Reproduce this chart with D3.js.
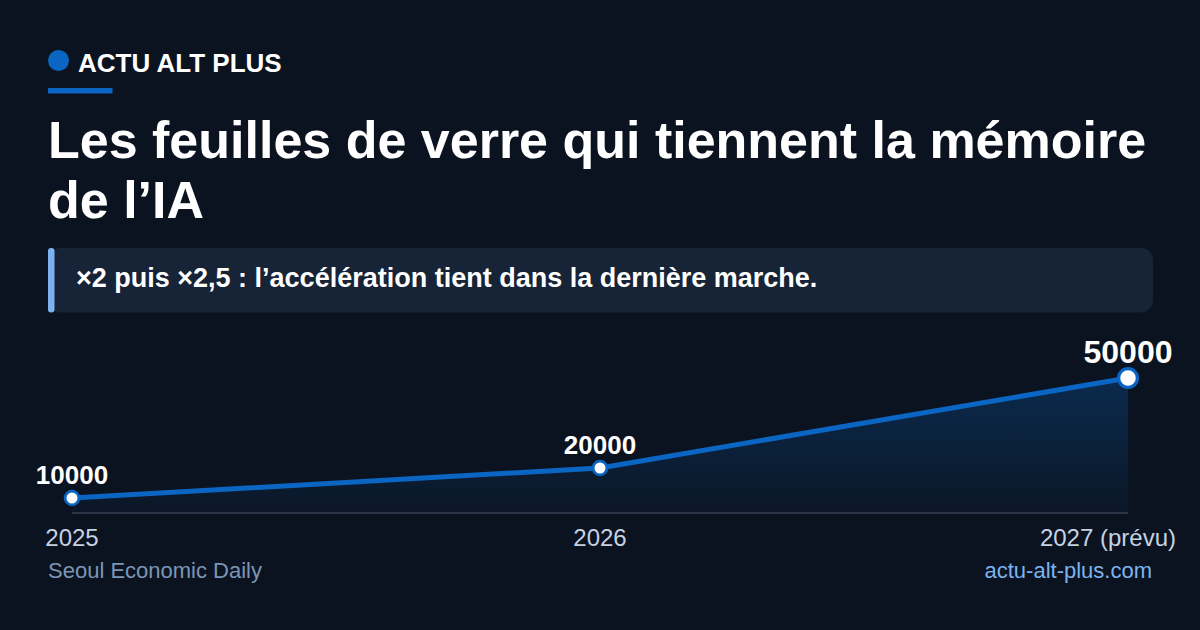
<!DOCTYPE html>
<html lang="fr"><head><meta charset="utf-8">
<script src="https://cdn.jsdelivr.net/npm/d3@7"></script>
<style>
html,body{margin:0;padding:0;background:#0b1320;width:1200px;height:630px;overflow:hidden}
svg{display:block}
text{font-family:"Liberation Sans",Arial,sans-serif}
</style></head><body>
<svg id="c" width="1200" height="630"></svg>
<script>
const categories = ["2025", "2026", "2027 (prévu)"];
const values = [10000, 20000, 50000];
const brand = "ACTU ALT PLUS";
const titleLines = ["Les feuilles de verre qui tiennent la mémoire", "de l’IA"];
const subtitle = "×2 puis ×2,5 : l’accélération tient dans la dernière marche.";
const sourceLabel = "Seoul Economic Daily";
const siteLabel = "actu-alt-plus.com";

const svg = d3.select("#c");
svg.append("rect").attr("width",1200).attr("height",630).attr("fill","#0b1320");

const defs = svg.append("defs");
const g = defs.append("linearGradient").attr("id","area").attr("x1",0).attr("y1",0).attr("x2",0).attr("y2",1);
g.append("stop").attr("offset",0).attr("stop-color","#0a66c2").attr("stop-opacity",0.28);
g.append("stop").attr("offset",1).attr("stop-color","#0a66c2").attr("stop-opacity",0.04);

// header
svg.append("circle").attr("cx",58.5).attr("cy",60.5).attr("r",10.5).attr("fill","#0a66c2");
svg.append("text").attr("x",78).attr("y",72).attr("font-size",26).attr("font-weight",700).attr("fill","#fff").text(brand);
svg.append("rect").attr("x",48).attr("y",88).attr("width",64.5).attr("height",5.5).attr("fill","#0a66c2");
svg.append("g").selectAll("text").data(titleLines).join("text")
  .attr("x",48).attr("y",(d,i)=>157.5+i*60).attr("font-size",52).attr("font-weight",700).attr("fill","#fff").text(d=>d);

// callout
svg.append("rect").attr("x",48).attr("y",248).attr("width",1105).attr("height",64.5).attr("rx",12).attr("fill","#172336");
svg.append("rect").attr("x",48).attr("y",248).attr("width",6.5).attr("height",64.5).attr("rx",3).attr("fill","#7cb3ef");
svg.append("text").attr("x",76).attr("y",286.5).attr("font-size",27).attr("font-weight",700).attr("fill","#fff").text(subtitle);

// chart
const x = d3.scalePoint().domain(categories).range([72,1128]);
const y = d3.scaleLinear().domain([5000,50000]).range([513,378]);
const pts = categories.map((c,i)=>({c,v:values[i]}));

svg.append("path").datum(pts).attr("fill","url(#area)")
  .attr("d",d3.area().x(d=>x(d.c)).y0(y(5000)).y1(d=>y(d.v)));
svg.append("line").attr("x1",x(categories[0])).attr("x2",x(categories[2])).attr("y1",y(5000)).attr("y2",y(5000))
  .attr("stroke","#2a3548").attr("stroke-width",2);
svg.append("path").datum(pts).attr("fill","none").attr("stroke","#0a66c2").attr("stroke-width",5)
  .attr("d",d3.line().x(d=>x(d.c)).y(d=>y(d.v)));

const last = values.length-1;
svg.append("g").selectAll("circle").data(pts).join("circle")
  .attr("cx",d=>x(d.c)).attr("cy",d=>y(d.v)).attr("r",(d,i)=>i===last?9.4:6.9)
  .attr("fill","#fff").attr("stroke","#0a66c2").attr("stroke-width",(d,i)=>i===last?3.3:2.8);

svg.append("g").selectAll("text").data(pts).join("text")
  .attr("x",d=>x(d.c)).attr("y",(d,i)=>y(d.v)+(i===last?-15:-14)).attr("text-anchor","middle")
  .attr("font-size",(d,i)=>i===last?32:26).attr("font-weight",700).attr("fill","#fff").text(d=>d.v);

svg.append("g").selectAll("text").data(categories).join("text")
  .attr("x",(d,i)=>i===last?1176:x(d)).attr("y",546).attr("text-anchor",(d,i)=>i===last?"end":"middle")
  .attr("font-size",24).attr("fill","#c6d2e3").text(d=>d);

svg.append("text").attr("x",48).attr("y",578).attr("font-size",22).attr("fill","#7d95b5").text(sourceLabel);
svg.append("text").attr("x",1152).attr("y",578).attr("text-anchor","end").attr("font-size",22).attr("fill","#7cb3ef").text(siteLabel);
</script></body></html>
